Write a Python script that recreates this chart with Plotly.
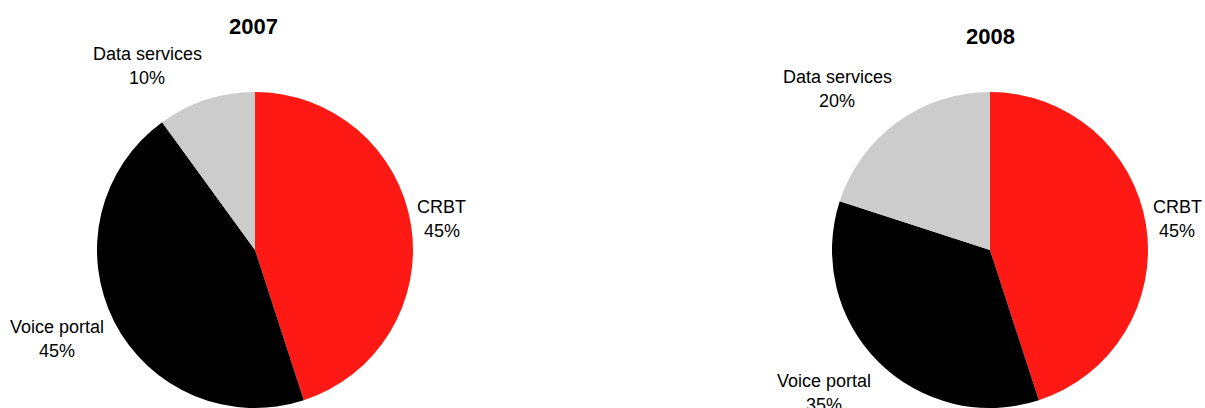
import plotly.graph_objects as go

# Revenue split by service type
categories = ["CRBT", "Voice portal", "Data services"]
share_2007 = [45, 45, 10]
share_2008 = [45, 35, 20]
years = ["2007", "2008"]

colors = ["#FF1914", "#000000", "#CCCCCC"]

W, H = 1205, 408
FONT = "Liberation Sans, Arial, sans-serif"


def px_x(x):
    return x / W


def px_y(y):
    return 1 - y / H


fig = go.Figure()

pie_domains = [
    dict(x=[px_x(255 - 158), px_x(255 + 158)], y=[0, px_y(250 - 158)]),
    dict(x=[px_x(990 - 158), px_x(990 + 158)], y=[0, px_y(250 - 158)]),
]

for values, dom in zip([share_2007, share_2008], pie_domains):
    fig.add_trace(go.Pie(
        labels=categories,
        values=values,
        sort=False,
        direction="clockwise",
        rotation=0,
        marker=dict(colors=colors, line=dict(width=0)),
        textinfo="none",
        hoverinfo="label+percent",
        showlegend=False,
        domain=dom,
    ))

# Outside label anchor points (pixel centres of the two-line block), in category order
label_pos = [
    [(442, 219), (57, 339), (147, 66)],
    [(1177, 219), (824, 393), (837, 89)],
]
title_pos = [(253, 27), (990, 36)]
LINE_GAP = 24

annotations = []
for year, values, positions, tpos in zip(years, [share_2007, share_2008], label_pos, title_pos):
    annotations.append(dict(
        text=f"<b>{year}</b>", x=px_x(tpos[0]), y=px_y(tpos[1]),
        xref="paper", yref="paper", xanchor="center", yanchor="middle",
        showarrow=False, font=dict(family=FONT, size=22, color="#000000"),
    ))
    total = sum(values)
    for cat, v, (lx, ly) in zip(categories, values, positions):
        pct = round(100 * v / total)
        for line, dy in ((cat, -LINE_GAP / 2), (f"{pct}%", LINE_GAP / 2)):
            annotations.append(dict(
                text=line, x=px_x(lx), y=px_y(ly + dy),
                xref="paper", yref="paper", xanchor="center", yanchor="middle",
                align="center", showarrow=False,
                font=dict(family=FONT, size=18, color="#000000"),
            ))

fig.update_layout(
    width=W, height=H,
    margin=dict(l=0, r=0, t=0, b=0),
    paper_bgcolor="#FFFFFF",
    plot_bgcolor="#FFFFFF",
    annotations=annotations,
)

fig.write_html("out.html")
